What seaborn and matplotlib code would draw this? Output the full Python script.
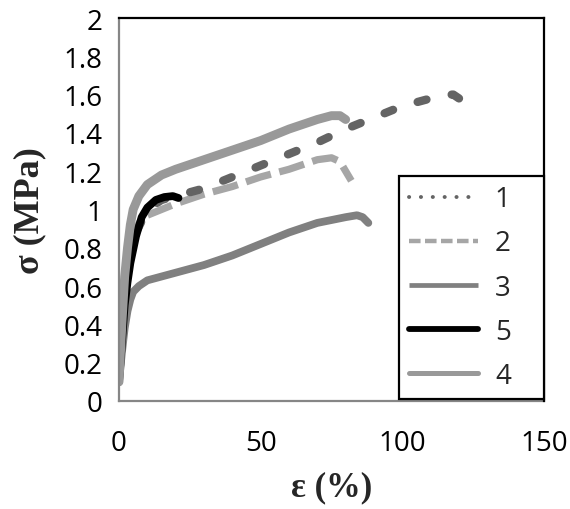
import matplotlib
matplotlib.use("Agg")
import matplotlib.pyplot as plt
import seaborn as sns
import numpy as np

# ---- data ----
x1 = [0, 2, 5, 10, 15, 20, 25, 30, 40, 50, 60, 70, 80, 90, 100, 110, 115, 118, 120]
y1 = [0.1, 0.6, 0.85, 1.0, 1.05, 1.07, 1.09, 1.11, 1.17, 1.23, 1.29, 1.35, 1.42, 1.48, 1.54, 1.58, 1.6, 1.6, 1.58]

x2 = [0, 1, 2, 3, 5, 8, 10, 15, 20, 30, 40, 50, 60, 70, 75, 78, 80, 82]
y2 = [0.1, 0.35, 0.6, 0.75, 0.88, 0.95, 0.97, 1.0, 1.03, 1.08, 1.12, 1.17, 1.21, 1.26, 1.27, 1.25, 1.2, 1.15]

x3 = [0, 1, 2, 3, 4, 5, 7, 10, 15, 20, 30, 40, 50, 60, 70, 80, 84, 86, 88]
y3 = [0.1, 0.25, 0.38, 0.47, 0.53, 0.57, 0.6, 0.63, 0.65, 0.67, 0.71, 0.76, 0.82, 0.88, 0.93, 0.96, 0.97, 0.96, 0.93]

x5 = [0, 1, 2, 3, 4, 5, 6, 8, 10, 13, 16, 19, 21]
y5 = [0.1, 0.3, 0.5, 0.62, 0.72, 0.79, 0.86, 0.96, 1.01, 1.05, 1.065, 1.07, 1.06]

x4 = [0, 1, 2, 3, 4, 5, 7, 10, 15, 20, 30, 40, 50, 60, 70, 75, 78, 80]
y4 = [0.1, 0.4, 0.65, 0.8, 0.92, 1.0, 1.07, 1.13, 1.18, 1.21, 1.26, 1.31, 1.36, 1.42, 1.47, 1.49, 1.49, 1.47]

labels = ["1", "2", "3", "5", "4"]
x_ticks = [0, 50, 100, 150]
y_ticks = [0, 0.2, 0.4, 0.6, 0.8, 1, 1.2, 1.4, 1.6, 1.8, 2]
y_ticklabels = ["0", "0.2", "0.4", "0.6", "0.8", "1", "1.2", "1.4", "1.6", "1.8", "2"]

sns.set_theme(style="white")
plt.rcParams["font.family"] = ["Open Sans", "DejaVu Sans"]

fig = plt.figure(figsize=(5.7, 5.1), dpi=100)
ax = fig.add_axes([119 / 570, 1 - 402 / 510, 425 / 570, 383 / 510])

# draw order: 2, 1, 3, 5, 4
sns.lineplot(x=x2, y=y2, ax=ax, sort=False, estimator=None, color="#a6a6a6",
             linewidth=5.2, linestyle=(0, (3.6, 1.2)), dash_capstyle="butt", label=labels[1])
sns.lineplot(x=x1, y=y1, ax=ax, sort=False, estimator=None, color="#646464",
             linewidth=6.0, linestyle=(2.6, (1.1, 3.1)), dash_capstyle="round", label=labels[0])
sns.lineplot(x=x3, y=y3, ax=ax, sort=False, estimator=None, color="#808080",
             linewidth=5.6, solid_capstyle="round", label=labels[2])
sns.lineplot(x=x5, y=y5, ax=ax, sort=False, estimator=None, color="#000000",
             linewidth=5.6, solid_capstyle="round", label=labels[3])
sns.lineplot(x=x4, y=y4, ax=ax, sort=False, estimator=None, color="#999999",
             linewidth=6.4, solid_capstyle="round", label=labels[4])

ax.set_xlim(0, 150)
ax.set_ylim(0, 2)
ax.set_xticks(x_ticks)
ax.set_xticklabels([str(t) for t in x_ticks])
ax.set_yticks(y_ticks)
ax.set_yticklabels(y_ticklabels)

for side in ["left", "bottom"]:
    ax.spines[side].set_color("#868686")
    ax.spines[side].set_linewidth(1.6)
for side in ["top", "right"]:
    ax.spines[side].set_color("#000000")
    ax.spines[side].set_linewidth(1.6)
    ax.spines[side].set_zorder(5)

ax.tick_params(axis="both", direction="in", length=5, width=1.2, color="#868686",
               labelsize=20, labelcolor="black")
ax.tick_params(axis="y", pad=12)
ax.tick_params(axis="x", pad=20)

serif = ["Liberation Serif", "DejaVu Serif"]
ax.set_xlabel("ε (%)", fontsize=25, fontweight="bold", family=serif, labelpad=10)
ax.set_ylabel("σ (MPa)", fontsize=26, fontweight="bold", family=serif, labelpad=12)

# legend in the order of the reference: 1,2,3,5,4
handles, labs = ax.get_legend_handles_labels()
order = [labs.index(l) for l in labels]
leg = ax.legend([handles[i] for i in order], [labs[i] for i in order],
                loc="lower left", bbox_to_anchor=(0.659, 0.004, 0.341, 0.59), mode="expand",
                frameon=True, fancybox=False, edgecolor="black", framealpha=1,
                fontsize=20, handlelength=2.5, handletextpad=0.6, labelspacing=0.58,
                borderpad=0.35, borderaxespad=0)
leg.get_frame().set_linewidth(1.6)
leg.set_zorder(10)
leg_styles = [
    dict(color="#646464", lw=2.8, ls=(0, (0.05, 3.0)), cap="round"),
    dict(color="#a6a6a6", lw=3.2, ls=(0, (2.6, 1.0)), cap="butt"),
    dict(color="#808080", lw=3.4, ls="-", cap="butt"),
    dict(color="#000000", lw=4.2, ls="-", cap="round"),
    dict(color="#999999", lw=3.6, ls="-", cap="round"),
]
for line, st in zip(leg.get_lines(), leg_styles):
    line.set_color(st["color"])
    line.set_linewidth(st["lw"])
    line.set_linestyle(st["ls"])
    line.set_dash_capstyle(st["cap"])
    line.set_solid_capstyle(st["cap"])

fig.savefig("out.png", dpi=100)
